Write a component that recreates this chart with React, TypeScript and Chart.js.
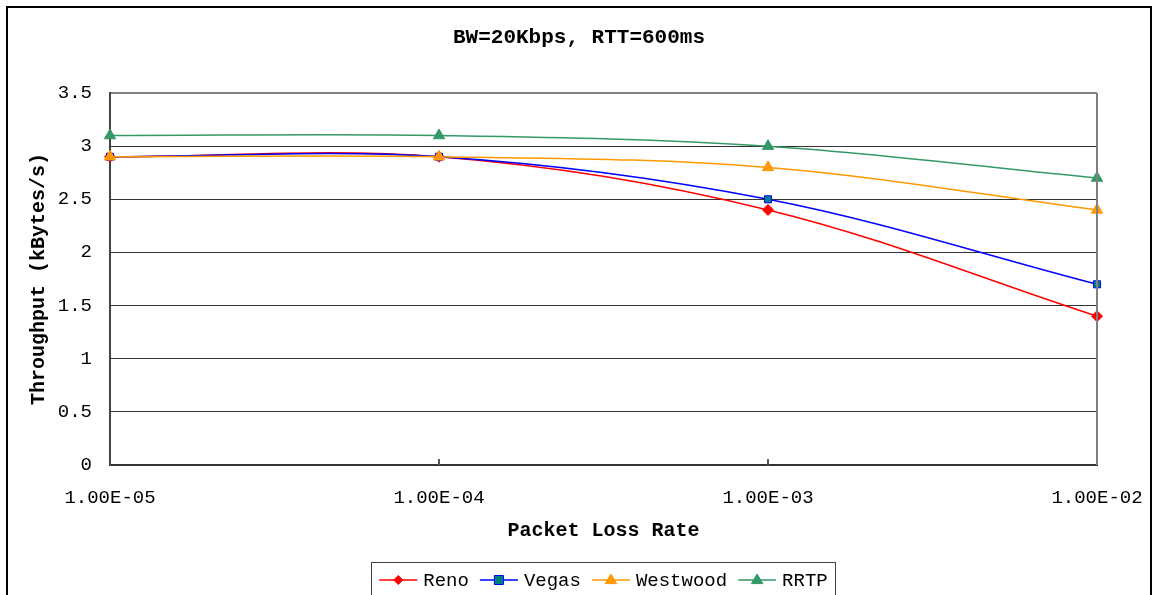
import React, { useEffect, useRef } from 'react';
import { Chart, registerables } from 'chart.js';

Chart.register(...registerables);

const FONT = "'Liberation Mono', 'DejaVu Sans Mono', 'Noto Sans CJK SC', monospace";

const titleText = 'BW=20Kbps, RTT=600ms';
const xTitle = 'Packet Loss Rate';
const yTitle = 'Throughput (kBytes/s)';

const categories = ['1.00E-05', '1.00E-04', '1.00E-03', '1.00E-02'];
const seriesNames = ['Reno', 'Vegas', 'Westwood', 'RRTP'];
const renoValues = [2.9, 2.9, 2.4, 1.4];
const vegasValues = [2.9, 2.9, 2.5, 1.7];
const westwoodValues = [2.9, 2.9, 2.8, 2.4];
const rrtpValues = [3.1, 3.1, 3.0, 2.7];
const yMin = 0;
const yMax = 3.5;
const yStep = 0.5;

type Sty = { line: string; fill: string; stroke: string; shape: string; r: number };
const styles: Sty[] = [
  { line: '#FF0000', fill: '#FF0000', stroke: '#FF0000', shape: 'rectRot', r: 5.5 },
  { line: '#0000FF', fill: '#008080', stroke: '#0000FF', shape: 'rect', r: 5 },
  { line: '#FF9900', fill: '#FF9900', stroke: '#FF9900', shape: 'triangle', r: 6.5 },
  { line: '#339966', fill: '#339966', stroke: '#339966', shape: 'triangle', r: 6.5 },
];

function drawMarker(ctx: CanvasRenderingContext2D, s: Sty, x: number, y: number, r: number) {
  ctx.save();
  ctx.fillStyle = s.fill;
  ctx.strokeStyle = s.stroke;
  ctx.lineWidth = 1;
  ctx.beginPath();
  if (s.shape === 'rectRot') {
    ctx.moveTo(x, y - r);
    ctx.lineTo(x + r, y);
    ctx.lineTo(x, y + r);
    ctx.lineTo(x - r, y);
    ctx.closePath();
  } else if (s.shape === 'rect') {
    ctx.rect(x - r, y - r, 2 * r, 2 * r);
  } else {
    ctx.moveTo(x, y - r);
    ctx.lineTo(x + r * 0.95, y + r * 0.6);
    ctx.lineTo(x - r * 0.95, y + r * 0.6);
    ctx.closePath();
  }
  ctx.fill();
  ctx.stroke();
  ctx.restore();
}

const customPlugin = {
  id: 'customDecor',
  afterDraw(chart: any) {
    const { ctx, chartArea } = chart;
    const xs = chart.scales.x;
    ctx.save();
    // right border of plot area
    ctx.strokeStyle = '#808080';
    ctx.lineWidth = 2;
    ctx.beginPath();
    ctx.moveTo(Math.round(chartArea.right), chartArea.top);
    ctx.lineTo(Math.round(chartArea.right), chartArea.bottom);
    ctx.stroke();
    // upward tick marks at categories
    ctx.strokeStyle = '#555555';
    ctx.lineWidth = 2;
    for (let i = 1; i < categories.length - 1; i++) {
      const px = Math.round(xs.getPixelForValue(i));
      ctx.beginPath();
      ctx.moveTo(px, chartArea.bottom);
      ctx.lineTo(px, chartArea.bottom - 6);
      ctx.stroke();
    }
    // title
    ctx.fillStyle = '#000';
    ctx.font = `bold 21px ${FONT}`;
    ctx.textAlign = 'center';
    ctx.textBaseline = 'middle';
    ctx.fillText(titleText, chart.width / 2, 30);

    // legend
    ctx.font = `19px ${FONT}`;
    const lineLen = 38;
    const gapAfterLine = 6;
    const gapItem = 11;
    const widths = seriesNames.map((n) => lineLen + gapAfterLine + ctx.measureText(n).width);
    const total = widths.reduce((a, b) => a + b, 0) + gapItem * (seriesNames.length - 1);
    const cx = (chartArea.left + chartArea.right) / 2;
    let x = cx - total / 2;
    const ly = 572;
    const boxLeft = x - 8;
    const boxRight = x + total + 8;
    ctx.strokeStyle = '#404040';
    ctx.lineWidth = 1;
    ctx.strokeRect(Math.round(boxLeft) + 0.5, 554.5, Math.round(boxRight - boxLeft), 60);
    seriesNames.forEach((name, i) => {
      const s = styles[i];
      ctx.strokeStyle = s.line;
      ctx.lineWidth = 1.5;
      ctx.beginPath();
      ctx.moveTo(x, ly);
      ctx.lineTo(x + lineLen, ly);
      ctx.stroke();
      drawMarker(ctx, s, x + lineLen / 2, ly, s.shape === 'triangle' ? 6 : 4.5);
      ctx.fillStyle = '#000';
      ctx.textAlign = 'left';
      ctx.textBaseline = 'middle';
      ctx.fillText(name, x + lineLen + gapAfterLine, ly + 1);
      x += widths[i] + gapItem;
    });
    ctx.restore();
  },
};

export default function App() {
  const ref = useRef<HTMLCanvasElement>(null);

  useEffect(() => {
    const canvas = ref.current;
    if (!canvas) return;
    const allValues = [renoValues, vegasValues, westwoodValues, rrtpValues];
    const datasets = seriesNames.map((name, i) => ({
      label: name,
      data: allValues[i],
      borderColor: styles[i].line,
      backgroundColor: styles[i].fill,
      pointBackgroundColor: styles[i].fill,
      pointBorderColor: styles[i].stroke,
      pointBorderWidth: 1,
      pointStyle: styles[i].shape,
      pointRadius: styles[i].r,
      borderWidth: 1.5,
      tension: 0.35,
      fill: false,
      order: seriesNames.length - i,
    }));
    const chart = new Chart(canvas, {
      type: 'line',
      data: { labels: categories, datasets },
      plugins: [customPlugin],
      options: {
        responsive: false,
        animation: false,
        events: [],
        layout: { padding: { top: 85, right: 53, left: 0, bottom: 0 } },
        plugins: {
          legend: { display: false },
          title: { display: false },
          tooltip: { enabled: false },
        },
        scales: {
          x: {
            type: 'category',
            offset: false,
            afterFit: (s: any) => {
              s.height = 143;
              s.paddingLeft = 0;
              s.paddingRight = 0;
            },
            grid: { display: true, drawOnChartArea: false, drawTicks: false },
            border: { display: true, color: '#333333', width: 2 },
            ticks: {
              color: '#000',
              padding: 22,
              maxRotation: 0,
              autoSkip: false,
              font: { family: FONT, size: 19 },
            },
            title: {
              display: true,
              text: xTitle,
              color: '#000',
              font: { family: FONT, size: 20, weight: 'bold' },
              padding: { top: 0, bottom: 65 },
            },
          },
          y: {
            type: 'linear',
            min: yMin,
            max: yMax,
            afterFit: (s: any) => {
              s.width = 102;
            },
            grid: {
              drawTicks: false,
              color: (c: any) => (c.tick && c.tick.value === yMax ? '#808080' : '#333333'),
              lineWidth: (c: any) => (c.tick && c.tick.value === yMax ? 2 : 1),
            },
            border: { display: true, color: '#444444', width: 2 },
            ticks: {
              stepSize: yStep,
              color: '#000',
              padding: 18,
              font: { family: FONT, size: 19 },
              callback: (v: any) => String(v),
            },
            title: {
              display: true,
              text: yTitle,
              color: '#000',
              font: { family: FONT, size: 20, weight: 'bold' },
              padding: { top: 19, bottom: 0 },
            },
          },
        },
      },
    } as any);
    return () => chart.destroy();
  }, []);

  return (
    <div
      style={{
        position: 'absolute',
        left: 6,
        top: 6,
        width: 1142,
        height: 600,
        border: '2px solid #000',
        background: '#fff',
      }}
    >
      <canvas ref={ref} width={1142} height={600} style={{ display: 'block' }} />
    </div>
  );
}
